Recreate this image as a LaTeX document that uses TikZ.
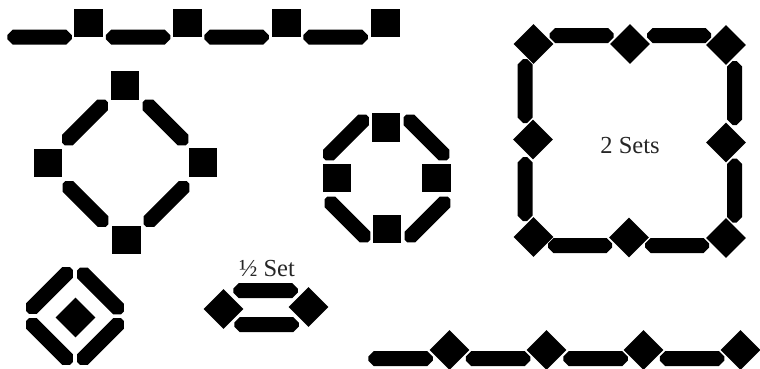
\documentclass[tikz,border=0pt]{standalone}
\usepackage{fontspec}
\setmainfont{Liberation Serif}

\begin{document}
\begin{tikzpicture}[x=1pt,y=-1pt,
  tile/.style={fill=black,inner sep=0pt,minimum size=28.5pt},
  gem/.style={fill=black,inner sep=0pt,minimum size=28pt,rotate=45},
  bar/.pic={\fill ({-#1/2},-2) -- ({-#1/2+5.5},-7.5) -- ({#1/2-5.5},-7.5)
              -- ({#1/2},-2) -- ({#1/2},2) -- ({#1/2-5.5},7.5)
              -- ({-#1/2+5.5},7.5) -- ({-#1/2},2) -- cycle;},
  setlabel/.style={font=\fontsize{24.5}{28}\selectfont,text=black!85,inner sep=0pt}
]
\useasboundingbox (0,0) rectangle (760,368);

% top border: bars and squares
\foreach \i/\x in {1/39.5,2/138,3/236.5,4/335.5}
  \pic (tb\i) at (\x,37) {bar=64.5};
\foreach \i/\x in {1/88.5,2/187.5,3/286.5,4/385.5}
  \node[tile] (ts\i) at (\x,23) {};

% large ring of squares
\node[tile] (ra1) at (125,85.5) {};
\node[tile] (ra2) at (48,163) {};
\node[tile] (ra3) at (203,162.5) {};
\node[tile] (ra4) at (126.5,240) {};
\pic[rotate=45]  (rab1) at (85,122.5) {bar=61};
\pic[rotate=-45] (rab2) at (165.5,122.5) {bar=61};
\pic[rotate=-45] (rab3) at (85.5,204) {bar=61};
\pic[rotate=45]  (rab4) at (166.5,204) {bar=61};

% small ring of squares
\node[tile] (rb1) at (386,127.5) {};
\node[tile] (rb2) at (337,178) {};
\node[tile] (rb3) at (436.5,178) {};
\node[tile] (rb4) at (387,229) {};
\pic[rotate=45]  (rbb1) at (346,137.5) {bar=61};
\pic[rotate=-45] (rbb2) at (426.5,137.5) {bar=61};
\pic[rotate=-45] (rbb3) at (347.5,219.5) {bar=61};
\pic[rotate=45]  (rbb4) at (427.5,219.5) {bar=61};

% frame of diamonds, 2 sets
\foreach \i/\x/\y in {1/533.5/44,2/630/44,3/726/45,4/533/139.5,
                      5/726/142.5,6/533.5/237,7/629/237.5,8/726/238}
  \node[gem] (fd\i) at (\x,\y) {};
\pic (fb1) at (581.5,35.5) {bar=64};
\pic (fb2) at (679,35.5) {bar=64};
\pic (fb3) at (580,245.5) {bar=64};
\pic (fb4) at (677,245.5) {bar=64};
\pic[rotate=90] (fb5) at (525,91) {bar=64};
\pic[rotate=90] (fb6) at (525,189) {bar=64};
\pic[rotate=90] (fb7) at (734.5,93) {bar=64};
\pic[rotate=90] (fb8) at (734.5,190.5) {bar=64};
\node[setlabel] (two) at (630,145.5) {2 Sets};

% octagon with centre diamond
\pic[rotate=45]  (ob1) at (49.5,290.5) {bar=62};
\pic[rotate=-45] (ob2) at (100.5,291) {bar=62};
\pic[rotate=-45] (ob3) at (49.5,341.5) {bar=62};
\pic[rotate=45]  (ob4) at (100.5,341.5) {bar=62};
\node[gem] (oc) at (75.5,317.5) {};

% half set
\node[gem] (hd1) at (223.5,309) {};
\node[gem] (hd2) at (308.5,307) {};
\pic (hb1) at (265.5,290.5) {bar=64.5};
\pic (hb2) at (266.5,324.5) {bar=64.5};
\node[setlabel] (half) at (267,268.5) {½ Set};

% bottom border: bars and diamonds
\foreach \i/\x in {1/400.5,2/498,3/595.5,4/692}
  \pic (bb\i) at (\x,358.5) {bar=64.5};
\foreach \i/\x in {1/449.5,2/546.5,3/643.5,4/740.5}
  \node[gem] (bd\i) at (\x,350) {};
\end{tikzpicture}
\end{document}
